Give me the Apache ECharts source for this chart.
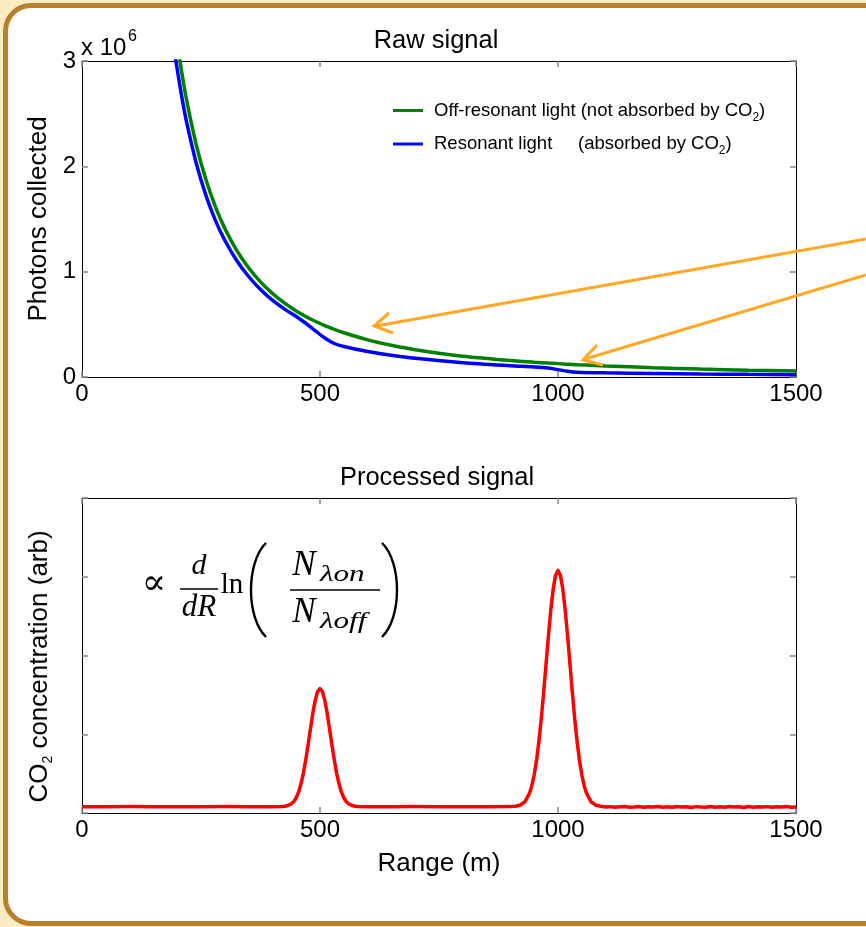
<!DOCTYPE html>
<html>
<head>
<meta charset="utf-8">
<script src="https://cdn.jsdelivr.net/npm/echarts@6/dist/echarts.min.js"></script>
<style>
  html, body { margin: 0; padding: 0; background: #fcecc2; width: 866px; height: 927px; overflow: hidden; }
  #panel { position: absolute; left: 3px; top: 3px; width: 960px; height: 923px; box-sizing: border-box;
           border: 5px solid #b8802c; border-radius: 28px; background: #ffffff; }
  #main { position: absolute; left: 0; top: 0; width: 866px; height: 927px; }
</style>
</head>
<body>
<div id="panel"></div>
<div id="main"></div>
<script>
// ---------- data ----------
const rawTicks = [0, 500, 1000, 1500];
const rawRange = [195,200,210,220,240,260,280,300,325,350,375,400,425,450,470,490,510,530,550,600,650,700,800,900,950,980,1000,1020,1040,1100,1200,1300,1400,1500];
// photons collected, in units of 1e6
const offResonant = [3.340,3.175,2.880,2.624,2.205,1.879,1.620,1.411,1.202,1.037,0.903,0.794,0.703,0.627,0.575,0.529,0.488,0.452,0.420,0.353,0.301,0.259,0.198,0.157,0.141,0.132,0.127,0.122,0.117,0.105,0.088,0.075,0.065,0.058];
const resonant    = [3.070,2.921,2.650,2.414,2.029,1.729,1.490,1.298,1.106,0.954,0.831,0.730,0.647,0.574,0.510,0.440,0.370,0.318,0.290,0.242,0.206,0.177,0.135,0.107,0.096,0.085,0.070,0.055,0.046,0.040,0.034,0.029,0.025,0.022];

const procRange = [0,50,100,150,200,250,300,350,400,420,430,440,445,450,455,460,465,470,475,480,485,490,495,500,505,510,515,520,525,530,535,540,545,550,555,560,570,580,600,650,700,750,800,850,900,910,920,930,940,945,950,955,960,965,970,975,980,985,990,995,1000,1005,1010,1015,1020,1025,1030,1035,1040,1045,1050,1055,1060,1070,1080,1090,
  1100,1110,1120,1130,1140,1150,1160,1170,1180,1190,1200,1210,1220,1230,1240,1250,1260,1270,1280,1290,1300,1310,1320,1330,1340,1350,1360,1370,1380,1390,1400,1410,1420,1430,1440,1450,1460,1470,1480,1490,1500];
const concentration = [0.080,0.079,0.081,0.080,0.078,0.080,0.081,0.079,0.080,0.082,0.089,0.116,0.146,0.193,0.265,0.367,0.503,0.673,0.866,1.073,1.270,1.433,1.543,1.580,1.543,1.433,1.270,1.073,0.866,0.673,0.503,0.367,0.265,0.193,0.146,0.116,0.089,0.082,0.080,0.079,0.081,0.080,0.078,0.080,0.081,0.085,0.098,0.139,0.248,0.347,0.485,0.674,0.914,1.205,1.541,1.901,2.258,2.585,2.849,3.020,3.080,3.020,2.849,2.585,2.258,1.901,1.541,1.205,0.914,0.674,0.485,0.347,0.248,0.139,0.098,0.085,
  0.076,0.081,0.073,0.079,0.083,0.074,0.077,0.082,0.072,0.079,0.075,0.083,0.074,0.078,0.072,0.082,0.075,0.080,0.071,0.081,0.076,0.073,0.083,0.074,0.079,0.072,0.082,0.075,0.080,0.071,0.083,0.074,0.078,0.075,0.081,0.072,0.079,0.076,0.082,0.073,0.077];

const legendNames = ['Off-resonant light (not absorbed by CO{sub|2})', 'Resonant light     (absorbed by CO{sub|2})'];

// ---------- chart ----------
const FONT = "'Liberation Sans', Arial, sans-serif";
const SERIF = "'Liberation Serif', 'DejaVu Serif', serif";
const chart = echarts.init(document.getElementById('main'), null, {renderer: 'canvas'});

function xAx(grid, pos, showLabel, extra) {
  return Object.assign({
    gridIndex: grid, type: 'value', position: pos, min: 0, max: 1500, interval: 500,
    axisLine: {show: true, onZero: false, lineStyle: {color: '#000', width: 1}},
    axisTick: {show: true, inside: true, length: 6, lineStyle: {color: '#888', width: 1.5}},
    axisLabel: {show: showLabel, fontSize: 24, color: '#000', fontFamily: FONT, margin: 5, formatter: v => String(v)},
    splitLine: {show: false}
  }, extra || {});
}
function yAx(grid, pos, max, showLabel, extra) {
  return Object.assign({
    gridIndex: grid, type: 'value', position: pos, min: 0, max: max, interval: 1,
    axisLine: {show: true, onZero: false, lineStyle: {color: '#000', width: 1}},
    axisTick: {show: true, inside: true, length: 6, lineStyle: {color: '#888', width: 1.5}},
    axisLabel: {show: showLabel, fontSize: 24, color: '#000', fontFamily: FONT, margin: 6, formatter: v => String(v)},
    splitLine: {show: false}
  }, extra || {});
}

const subRich = {sub: {fontSize: 14, lineHeight: 30, verticalAlign: 'bottom', fontFamily: FONT, color: '#000'}};

const option = {
  animation: false,
  grid: [
    {left: 82, top: 61, width: 714, height: 316},
    {left: 82, top: 498, width: 714, height: 315}
  ],
  legend: {
    data: ['off', 'res'],
    orient: 'vertical', left: 388, top: 96,
    itemWidth: 30, itemHeight: 3, itemGap: 11, icon: 'rect',
    formatter: function (n) { return n === 'off' ? legendNames[0] : legendNames[1]; },
    textStyle: {fontSize: 18.5, color: '#000', fontFamily: FONT, padding: [0, 0, 0, 6],
      rich: {sub: {fontSize: 12, lineHeight: 26, verticalAlign: 'bottom', fontFamily: FONT, color: '#000'}}}
  },
  xAxis: [
    xAx(0, 'bottom', true),
    xAx(0, 'top', false),
    xAx(1, 'bottom', true, {name: 'Range (m)', nameLocation: 'middle', nameGap: 38,
      nameTextStyle: {fontSize: 26, color: '#000', fontFamily: FONT}}),
    xAx(1, 'top', false)
  ],
  yAxis: [
    yAx(0, 'left', 3, true, {name: 'Photons collected', nameLocation: 'middle', nameGap: 30, nameRotate: 90,
      nameTextStyle: {fontSize: 26, color: '#000', fontFamily: FONT}}),
    yAx(0, 'right', 3, false),
    yAx(1, 'left', 4, false, {name: 'CO{sub|2} concentration (arb)', nameLocation: 'middle', nameGap: 27, nameRotate: 90,
      nameTextStyle: {fontSize: 26, color: '#000', fontFamily: FONT, padding: [0, 22, 0, 0], rich: subRich}}),
    yAx(1, 'right', 4, false)
  ],
  series: [
    {name: 'off', type: 'line', xAxisIndex: 0, yAxisIndex: 0, smooth: 0.3, showSymbol: false, clip: true,
     lineStyle: {color: '#008000', width: 3.5}, itemStyle: {color: '#008000'},
     data: rawRange.map((r, i) => [r, offResonant[i]])},
    {name: 'res', type: 'line', xAxisIndex: 0, yAxisIndex: 0, smooth: 0.3, showSymbol: false, clip: true,
     lineStyle: {color: '#0000ff', width: 3.5}, itemStyle: {color: '#0000ff'},
     data: rawRange.map((r, i) => [r, resonant[i]])},
    {name: 'proc', type: 'line', xAxisIndex: 2, yAxisIndex: 2, smooth: false, showSymbol: false, clip: true,
     lineStyle: {color: '#ff0000', width: 3.5, join: 'round'}, itemStyle: {color: '#ff0000'},
     data: procRange.map((r, i) => [r, concentration[i]])}
  ],
  graphic: [
    // titles
    {type: 'text', x: 436, y: 41, style: {text: 'Raw signal', font: '25.5px ' + FONT, fill: '#000', align: 'center', verticalAlign: 'middle'}},
    {type: 'text', x: 437, y: 478, style: {text: 'Processed signal', font: '25.5px ' + FONT, fill: '#000', align: 'center', verticalAlign: 'middle'}},
    // exponent
    {type: 'text', x: 81, y: 48, style: {text: 'x 10', font: '24px ' + FONT, fill: '#000', align: 'left', verticalAlign: 'middle'}},
    {type: 'text', x: 128, y: 37, style: {text: '6', font: '16px ' + FONT, fill: '#000', align: 'left', verticalAlign: 'middle'}},
    // arrows
    {type: 'line', shape: {x1: 866, y1: 239, x2: 376, y2: 326}, style: {stroke: '#ffa726', lineWidth: 3}, z: 10},
    {type: 'polyline', shape: {points: [[389, 313], [374, 326], [393, 333]]}, style: {stroke: '#ffa726', lineWidth: 3, fill: null}, z: 10},
    {type: 'line', shape: {x1: 866, y1: 275, x2: 585, y2: 359}, style: {stroke: '#ffa726', lineWidth: 3}, z: 10},
    {type: 'polyline', shape: {points: [[597, 345], [583, 360], [603, 365]]}, style: {stroke: '#ffa726', lineWidth: 3, fill: null}, z: 10},
    // formula
    {type: 'text', x: 154, y: 585, style: {text: '\u221D', font: '36px ' + SERIF, fill: '#000', align: 'center', verticalAlign: 'middle'}},
    {type: 'text', x: 199, y: 566, style: {text: 'd', font: 'italic 30px ' + SERIF, fill: '#000', align: 'center', verticalAlign: 'middle'}},
    {type: 'line', shape: {x1: 180, y1: 589, x2: 218, y2: 589}, style: {stroke: '#000', lineWidth: 1.6}},
    {type: 'text', x: 199, y: 608, style: {text: 'dR', font: 'italic 31px ' + SERIF, fill: '#000', align: 'center', verticalAlign: 'middle'}},
    {type: 'text', x: 232, y: 585, style: {text: 'ln', font: '29px ' + SERIF, fill: '#000', align: 'center', verticalAlign: 'middle'}},
    {type: 'bezierCurve', shape: {x1: 266, y1: 543, x2: 266, y2: 637, cpx1: 246, cpy1: 562, cpx2: 246, cpy2: 618}, style: {stroke: '#000', lineWidth: 2.4, fill: null}},
    {type: 'text', x: 304, y: 566, style: {text: 'N', font: 'italic 35px ' + SERIF, fill: '#000', align: 'center', verticalAlign: 'middle'}},
    {type: 'text', x: 320, y: 575, scaleX: 1.3, originX: 0, originY: 0, style: {text: '\u03BBon', font: 'italic 24px ' + SERIF, fill: '#000', align: 'left', verticalAlign: 'middle'}},
    {type: 'line', shape: {x1: 290, y1: 590, x2: 380, y2: 590}, style: {stroke: '#000', lineWidth: 1.6}},
    {type: 'text', x: 304, y: 613, style: {text: 'N', font: 'italic 35px ' + SERIF, fill: '#000', align: 'center', verticalAlign: 'middle'}},
    {type: 'text', x: 320, y: 622, scaleX: 1.3, originX: 0, originY: 0, style: {text: '\u03BBoff', font: 'italic 24px ' + SERIF, fill: '#000', align: 'left', verticalAlign: 'middle'}},
    {type: 'bezierCurve', shape: {x1: 382, y1: 543, x2: 382, y2: 637, cpx1: 402, cpy1: 562, cpx2: 402, cpy2: 618}, style: {stroke: '#000', lineWidth: 2.4, fill: null}}
  ]
};
chart.setOption(option);
</script>
</body>
</html>
